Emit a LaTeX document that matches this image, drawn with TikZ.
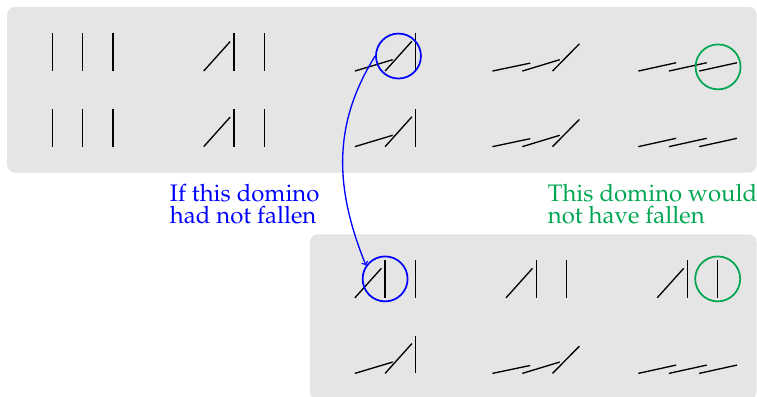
\documentclass[tikz,border=0pt]{standalone}
\usepackage[T1]{fontenc}
\usepackage{mathpazo}

\definecolor{dgreen}{RGB}{0,166,81}

\tikzset{
  panel/.style={fill=black!10, rounded corners=6pt},
  ring/.style={circle, draw, line width=1.3pt, minimum size=1.19cm, inner sep=0pt},
  note/.style={font=\fontsize{18}{17}\selectfont, align=left, inner sep=0pt, anchor=base west},
  % stavy troch kociek
  upright/.pic={\foreach \x in {-0.8,0,0.8} \draw (\x,0) -- ++(0,1);},
  tipone/.pic={\draw (-0.8,0) -- ++(0.70,0.78);
    \foreach \x in {0,0.8} \draw (\x,0) -- ++(0,1);},
  tiptwo/.pic={\draw (-0.8,0) -- ++(1.0,0.30);
    \draw (0,0) -- ++(0.71,0.79);
    \draw (0.8,0) -- ++(0,1);},
  tipthree/.pic={\foreach \x/\u/\v in {-1.16/1.0/0.21, -0.37/0.99/0.30, 0.43/0.71/0.72}
    \draw (\x,0) -- ++(\u,\v);},
  flat/.pic={\foreach \x in {-1.30,-0.49,0.31} \draw (\x,0) -- ++(1.0,0.22);}
}

\begin{document}
\begin{tikzpicture}[line width=1pt]
  \useasboundingbox (0,0) rectangle (20.03,10.48);

  % pozadie
  \fill[panel] (0.19,5.91) rectangle (20.02,10.30);
  \fill[panel] (8.20,-0.09) rectangle (20.02,4.28);

  % horne dva riadky
  \foreach \y in {8.6,6.6} {
    \pic at (2.19,\y) {upright};
    \pic at (6.19,\y) {tipone};
    \pic at (10.19,\y) {tiptwo};
    \pic at (14.19,\y) {tipthree};
    \pic at (18.19,\y) {flat};
  }

  % dolne dva riadky
  \foreach \x in {10.19,14.19,18.19}
    \pic at (\x,2.6) {tipone};
  \pic at (10.19,0.6) {tiptwo};
  \pic at (14.19,0.6) {tipthree};
  \pic at (18.19,0.6) {flat};

  % kruzky
  \node[ring, draw=blue] (hitA) at (10.543,8.997) {};
  \node[ring, draw=dgreen] (keepA) at (19.0,8.71) {};
  \node[ring, draw=blue] (hitB) at (10.19,3.10) {};
  \node[ring, draw=dgreen] (keepB) at (18.99,3.10) {};

  % sipka
  \draw[->, blue] (hitA.west) to[out=238, in=112] (hitB.145);

  % popisy
  \node[note, blue] (ifnot) at (4.48,4.56) {If this domino\\had not fallen};
  \node[note, dgreen] (wouldnot) at (14.48,4.56) {This domino would\\not have fallen};

\end{tikzpicture}
\end{document}
